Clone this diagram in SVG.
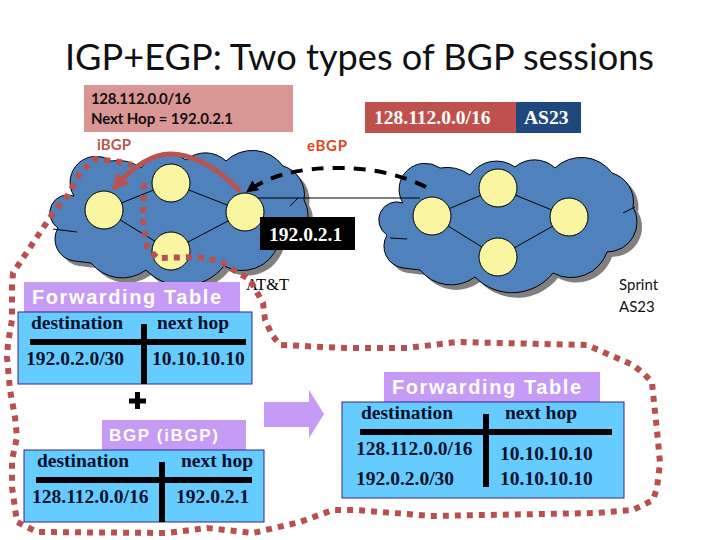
<svg xmlns="http://www.w3.org/2000/svg" width="720" height="540" viewBox="0 0 720 540">
<style>
.cloud{fill:#4f81bd;stroke:#000;stroke-width:1}
.shadow{fill:#808080}
.router{fill:#f9f5a0;stroke:#000;stroke-width:1}
.link{stroke:#000;stroke-width:1;fill:none}
.hdr{fill:#c59bf5}
.tbl{fill:#66ccff;stroke:#33258a;stroke-width:1}
.bar{stroke:#000;stroke-width:6;fill:none}
.t{font-family:"Liberation Serif",serif;font-weight:bold;font-size:19.5px;fill:#00102a}
.w{font-family:"Liberation Serif",serif;font-weight:bold;font-size:19.5px;fill:#fff}
.h{font-family:"Liberation Sans",sans-serif;font-weight:bold;font-size:20px;fill:#fff}
.c{font-family:Lato,sans-serif;font-size:15px;fill:#111}
</style>
<defs>
<path id="cl" d="M403 203 A26 26 0 0 1 440 168 A40 40 0 0 1 470 175 A32 32 0 0 1 515 167 A30 30 0 0 1 555 168 A38 38 0 0 1 612 173 A30 30 0 0 1 633 207 A30 30 0 0 1 607 252 A38 38 0 0 1 553 273 A52 52 0 0 1 475 277 A40 40 0 0 1 420 270 L403 268 A22 22 0 0 1 387 235 A18 18 0 0 1 403 203 Z"/>
<marker id="ar" viewBox="0 0 10 10" refX="8" refY="5" markerWidth="3.4" markerHeight="3.4" orient="auto"><path d="M0 0L10 5L0 10Z" fill="#b85450"/></marker>
<marker id="ak" viewBox="0 0 10 10" refX="8" refY="5" markerWidth="3" markerHeight="3" orient="auto"><path d="M0 0L10 5L0 10Z" fill="#000"/></marker>
</defs>
<text x="65" y="70" font-family="Lato,sans-serif" font-size="36" fill="#111" textLength="589" lengthAdjust="spacingAndGlyphs">IGP+EGP: Two types of BGP sessions</text>
<g id="cloud-att">
<use href="#cl" class="shadow" transform="translate(-324,-2)"/>
<use href="#cl" class="cloud" transform="translate(-329,-7)"/>
<path class="link" d="M53 229L77 232M290 206L298 198"/>
</g>
<g id="cloud-sprint">
<use href="#cl" class="shadow" transform="translate(5,5)"/>
<use href="#cl" class="cloud"/>
<path class="link" d="M623 213L635 207M390 238L407 239"/>
</g>
<g id="connectors">
<path class="link" d="M104 210L171 183L245 212L171 251L104 210M245 198H420M432 216L498 188L569 217L498 257L432 216"/>
<path d="M426 187C395 172 365 168 337 168C300 168 270 175 248 191" fill="none" stroke="#000" stroke-width="4" stroke-dasharray="12 9" marker-end="url(#ak)"/>
<path d="M240 191C215 165 190 154 170 154C150 154 130 170 114 188" fill="none" stroke="#b85450" stroke-width="5" marker-end="url(#ar)"/>
</g>
<g id="routers">
<circle class="router" cx="104" cy="210" r="19"/><circle class="router" cx="171" cy="183" r="19"/><circle class="router" cx="245" cy="212" r="19"/><circle class="router" cx="171" cy="251" r="19"/>
<circle class="router" cx="432" cy="216" r="19"/><circle class="router" cx="498" cy="188" r="19"/><circle class="router" cx="569" cy="217" r="19"/><circle class="router" cx="498" cy="257" r="19"/>
</g>
<g id="route-note">
<rect x="84" y="85" width="209" height="47" fill="#d99694"/>
<text class="c" x="91" y="104" textLength="100" font-weight="700">128.112.0.0/16</text>
<text class="c" x="91" y="124" textLength="142" font-weight="700">Next Hop = 192.0.2.1</text>
</g>
<g id="route-bar">
<rect x="365" y="102" width="151" height="31" fill="#c0504d"/>
<rect x="516" y="102" width="65" height="31" fill="#1f497d"/>
<text class="w" x="374" y="124">128.112.0.0/16</text>
<text class="w" x="524" y="124">AS23</text>
</g>
<text id="ibgp" x="97" y="150" font-family="Lato,sans-serif" font-weight="bold" font-size="15" fill="#b85450" textLength="34">iBGP</text>
<text id="ebgp" x="307" y="151" font-family="Lato,sans-serif" font-weight="bold" font-size="15" fill="#e0441a" textLength="40">eBGP</text>
<g id="ip-label"><rect x="260" y="217" width="95" height="33" fill="#000"/><text class="w" x="269" y="241">192.0.2.1</text></g>
<text id="att" x="246" y="290" font-family="Liberation Serif,serif" font-size="16.5" fill="#000">AT&amp;T</text>
<g id="sprint"><text class="c" x="619" y="290">Sprint</text><text class="c" x="619" y="312">AS23</text></g>
<path id="boundary" d="M144 183L143 220L147 247L157 258L197 257L220 261L250 280L263 303L265 320L272 335L280 345L347 348L407 348L457 342L587 345L633 365L643 373L652 382L653 393L657 430L660 463L657 488L653 500L633 510L597 513L430 516L357 510L333 510L300 522L253 533L207 528L167 533L37 532L17 522L12 487L12 460L17 437L15 417L10 390L7 357L8 343L12 320L12 287L13 273L33 243L53 213L68 195L80 173L95 159L120 162L132 165" fill="none" stroke="#b85050" stroke-width="6" stroke-dasharray="6 6"/>
<g id="fib-left">
<rect class="hdr" x="24" y="282" width="216" height="30"/>
<text class="h" x="32" y="304" textLength="189">Forwarding Table</text>
<rect class="tbl" x="18" y="312" width="234" height="72"/>
<path class="bar" d="M30 342H246M144 324V384"/>
<text class="t" x="31" y="329">destination</text><text class="t" x="157" y="329">next hop</text>
<text class="t" x="26" y="365">192.0.2.0/30</text><text class="t" x="152" y="365">10.10.10.10</text>
</g>
<path id="plus" d="M129 401H146M137.500 392V409" stroke="#000" stroke-width="5" fill="none"/>
<g id="bgp-table">
<rect class="hdr" x="102" y="420" width="144" height="30"/>
<text class="h" x="109" y="441" style="font-size:17px" textLength="109">BGP (iBGP)</text>
<rect class="tbl" x="24" y="450" width="240" height="72"/>
<path class="bar" d="M36 480H252M162 462V522"/>
<text class="t" x="37" y="467">destination</text><text class="t" x="181" y="467">next hop</text>
<text class="t" x="32" y="503">128.112.0.0/16</text><text class="t" x="176" y="503">192.0.2.1</text>
</g>
<path id="result-arrow" class="hdr" d="M264 402H309V390L324 414L309 438V427H264Z"/>
<g id="fib-right">
<rect class="hdr" x="384" y="372" width="216" height="30"/>
<text class="h" x="392" y="394" textLength="189">Forwarding Table</text>
<rect class="tbl" x="342" y="402" width="282" height="96"/>
<path class="bar" d="M360 432H612M486 414V487"/>
<text class="t" x="361" y="419">destination</text><text class="t" x="505" y="419">next hop</text>
<text class="t" x="356" y="455">128.112.0.0/16</text><text class="t" x="500" y="460">10.10.10.10</text>
<text class="t" x="356" y="485">192.0.2.0/30</text><text class="t" x="500" y="485">10.10.10.10</text>
</g>
</svg>
